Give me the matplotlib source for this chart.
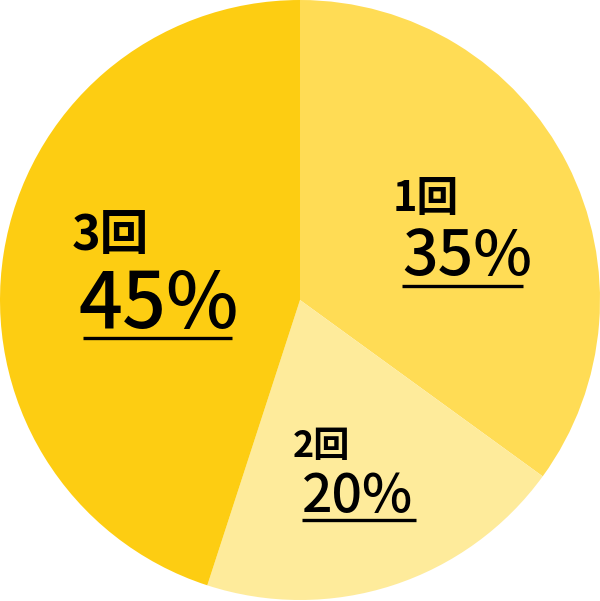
import matplotlib
matplotlib.use('Agg')
import matplotlib.pyplot as plt

labels = ['1回', '2回', '3回']
values = [35, 20, 45]
colors = ['#FFDC55', '#FEEB9B', '#FDCD12']

plt.rcParams['font.family'] = ['Noto Sans CJK JP', 'DejaVu Sans']

fig = plt.figure(figsize=(6, 6.01), dpi=100)
ax = fig.add_axes([0, 0, 1, 1])
ax.pie(values, colors=colors, startangle=90, counterclock=False, radius=1,
       wedgeprops={'linewidth': 0})
ax.set_xlim(-1, 1)
ax.set_ylim(-1.0033, 1)
ax.set_aspect('equal')
ax.axis('off')

# label layout in pixel coords: (name x, name baseline, name size, pct x, pct baseline, pct size, line y, line x0, line x1)
layout = [
    (393, 211, 30, 402, 275, 45, 286, 402, 523),
    (293, 457, 26, 302, 512, 38.5, 520, 302, 416),
    (72, 250, 35, 79, 328, 55.5, 338, 83, 232),
]

def px(x, y):
    return x / 600, 1 - y / 601

for lab, val, lay in zip(labels, values, layout):
    nx, ny, ns, vx, vy, vs, ly, lx0, lx1 = lay
    ax.text(*px(nx, ny), lab, transform=ax.transAxes, fontsize=ns,
            fontweight='bold', ha='left', va='baseline', color='black')
    ax.text(*px(vx, vy), f'{val}%', transform=ax.transAxes, fontsize=vs,
            fontweight='medium', ha='left', va='baseline', color='black')
    x0, y0 = px(lx0, ly)
    x1, _ = px(lx1, ly)
    ax.plot([x0, x1], [y0, y0], transform=ax.transAxes, color='black', lw=2.4,
            solid_capstyle='butt')

fig.savefig('out.png', dpi=100)
